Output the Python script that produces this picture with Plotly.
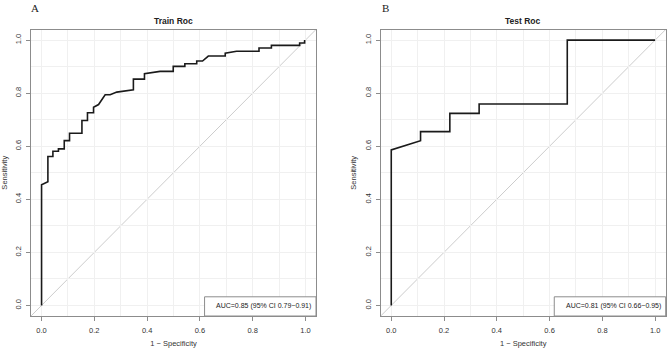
import plotly.graph_objects as go

# Train ROC (1 - specificity, sensitivity)
train_fpr = [0.0, 0.0, 0.024, 0.024, 0.043, 0.043, 0.064, 0.064, 0.086, 0.086, 0.106, 0.106,
             0.153, 0.153, 0.174, 0.174, 0.197, 0.197, 0.216, 0.241, 0.260, 0.285, 0.348, 0.348,
             0.390, 0.390, 0.449, 0.499, 0.499, 0.543, 0.543, 0.588, 0.588, 0.610, 0.632, 0.696,
             0.696, 0.739, 0.824, 0.824, 0.871, 0.871, 0.978, 0.978, 0.997, 0.997]
train_tpr = [0.0, 0.455, 0.466, 0.561, 0.561, 0.581, 0.581, 0.590, 0.590, 0.621, 0.621, 0.649,
             0.649, 0.697, 0.697, 0.726, 0.726, 0.747, 0.757, 0.794, 0.794, 0.804, 0.813, 0.853,
             0.853, 0.873, 0.882, 0.882, 0.901, 0.901, 0.911, 0.911, 0.921, 0.921, 0.940, 0.940,
             0.951, 0.958, 0.958, 0.970, 0.970, 0.980, 0.980, 0.989, 0.989, 1.0]

# Test ROC
test_fpr = [0.0, 0.0, 0.111, 0.111, 0.222, 0.222, 0.333, 0.333, 0.667, 0.667, 1.0]
test_tpr = [0.0, 0.586, 0.621, 0.655, 0.655, 0.724, 0.724, 0.759, 0.759, 1.0, 1.0]

titles = ["Train Roc", "Test Roc"]
panel_letters = ["A", "B"]
auc_texts = ["AUC=0.85 (95% CI 0.79\u22120.91)", "AUC=0.81 (95% CI 0.66\u22120.95)"]
tick_vals = [0.0, 0.2, 0.4, 0.6, 0.8, 1.0]
tick_text = ["0.0", "0.2", "0.4", "0.6", "0.8", "1.0"]

W, H = 668, 348
xdoms = [[31 / W, 316 / W], [380.7 / W, 665.7 / W]]
ydom = [(H - 316) / H, (H - 29.5) / H]

FONT = "Liberation Sans, Arial, sans-serif"
BOXC = "#8c8c8c"

fig = go.Figure()
series = [(train_fpr, train_tpr), (test_fpr, test_tpr)]
for i, (fx, fy) in enumerate(series):
    sfx = "" if i == 0 else "2"
    fig.add_trace(go.Scatter(x=fx, y=fy, mode="lines",
                             line=dict(color="#1a1a1a", width=1.6),
                             xaxis="x" + sfx, yaxis="y" + sfx, showlegend=False,
                             hoverinfo="skip"))

axis_common = dict(range=[-0.04, 1.04], showline=True, mirror=True, linecolor=BOXC,
                   linewidth=1, ticks="outside", ticklen=4, tickcolor=BOXC,
                   tickvals=tick_vals, ticktext=tick_text,
                   tickfont=dict(family=FONT, size=7.5, color="#333333"),
                   showgrid=True, gridcolor="#f0f0f0", gridwidth=1,
                   minor=dict(tickvals=[0.1, 0.3, 0.5, 0.7, 0.9], showgrid=True,
                              gridcolor="#f0f0f0", gridwidth=1, ticks=""),
                   zeroline=False, fixedrange=True)

layout = dict(width=W, height=H, margin=dict(l=0, r=0, t=0, b=0),
              plot_bgcolor="white", paper_bgcolor="white", showlegend=False)

for i in range(2):
    sfx = "" if i == 0 else "2"
    xa = dict(axis_common, domain=xdoms[i], anchor="y" + sfx, ticklabelstandoff=3,
              title=dict(text="1 \u2212 Specificity", font=dict(family=FONT, size=7.5, color="#333333"),
                         standoff=6))
    ya = dict(axis_common, domain=ydom, anchor="x" + sfx, tickangle=-90, ticklabelstandoff=2,
              title=dict(text="Sensitivity", font=dict(family=FONT, size=7.5, color="#333333"),
                         standoff=6))
    layout["xaxis" + sfx] = xa
    layout["yaxis" + sfx] = ya

fig.update_layout(**layout)

shapes = []
annotations = []
for i in range(2):
    sfx = "" if i == 0 else "2"
    # diagonal reference line
    shapes.append(dict(type="line", xref="x" + sfx + " domain", yref="y" + sfx + " domain",
                       x0=0, y0=0, x1=1, y1=1, line=dict(color="#cccccc", width=1), layer="below"))
    # legend box
    shapes.append(dict(type="rect", xref="x" + sfx + " domain", yref="y" + sfx + " domain",
                       x0=0.609, y0=0, x1=1, y1=0.067, line=dict(color=BOXC, width=1),
                       fillcolor="white"))
    annotations.append(dict(text=auc_texts[i], xref="x" + sfx + " domain", yref="y" + sfx + " domain",
                            x=0.99, y=0.034, xanchor="right", yanchor="middle", showarrow=False,
                            font=dict(family=FONT, size=7, color="#222222")))
    cx = (xdoms[i][0] + xdoms[i][1]) / 2
    annotations.append(dict(text="<b>" + titles[i] + "</b>", xref="paper", yref="paper",
                            x=cx, y=(H - 21) / H, xanchor="center", yanchor="middle",
                            showarrow=False, font=dict(family=FONT, size=8.5, color="#222222")))
    lx = [35, 385.5][i]
    annotations.append(dict(text=panel_letters[i], xref="paper", yref="paper",
                            x=lx / W, y=(H - 8) / H, xanchor="center", yanchor="middle",
                            showarrow=False,
                            font=dict(family="Liberation Serif, DejaVu Serif, serif", size=11,
                                      color="#222222")))

fig.update_layout(shapes=shapes, annotations=annotations)
fig.write_html("out.html", config={"displayModeBar": False},
               post_script="document.body.style.margin='0';document.body.style.padding='0';")
